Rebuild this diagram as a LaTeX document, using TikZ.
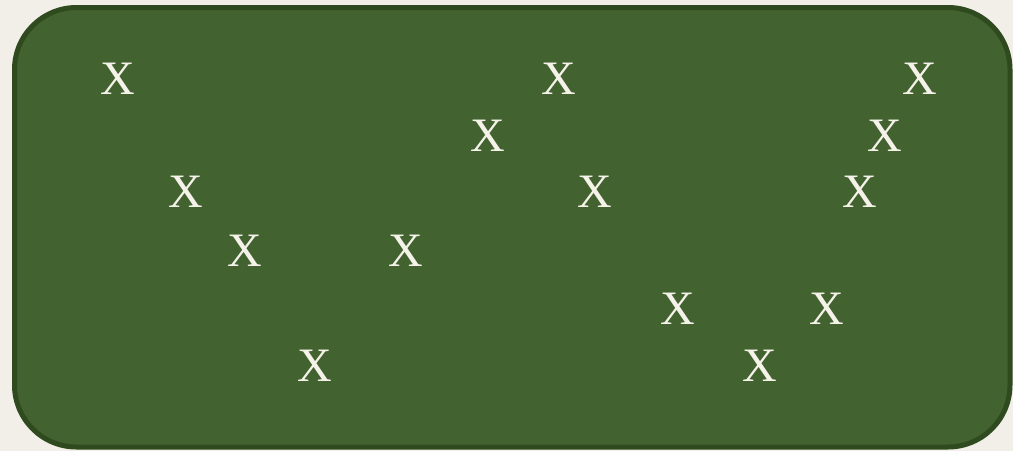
\documentclass[tikz,border=0pt]{standalone}
\usepackage{fontspec}
\setmainfont{Liberation Serif}
\definecolor{bgpaper}{HTML}{F2EEE8}
\definecolor{boardfill}{HTML}{42632F}
\definecolor{boardedge}{HTML}{2E4A1E}
\definecolor{chalk}{HTML}{F5F2EA}
\begin{document}
\begin{tikzpicture}[x=1pt,y=-1pt,
  xmark/.style={text=chalk,font=\fontsize{48}{48}\selectfont,inner sep=0pt,anchor=center}]
\useasboundingbox (0,0) rectangle (1013,451);
\fill[bgpaper] (0,0) rectangle (1013,451);
\draw[boardedge,line width=5pt,fill=boardfill,rounded corners=62pt] (14.5,7.5) rectangle (1010,447);
\node[xmark] (x1) at (118,79) {X};
\node[xmark] (x2) at (559,79) {X};
\node[xmark] (x3) at (920,79) {X};
\node[xmark] (x4) at (488,136) {X};
\node[xmark] (x5) at (885,136) {X};
\node[xmark] (x6) at (186,192) {X};
\node[xmark] (x7) at (595,192) {X};
\node[xmark] (x8) at (860,192) {X};
\node[xmark] (x9) at (245,251) {X};
\node[xmark] (x10) at (406,251) {X};
\node[xmark] (x11) at (678,309) {X};
\node[xmark] (x12) at (827,309) {X};
\node[xmark] (x13) at (314.5,366) {X};
\node[xmark] (x14) at (760,366) {X};
\end{tikzpicture}
\end{document}
